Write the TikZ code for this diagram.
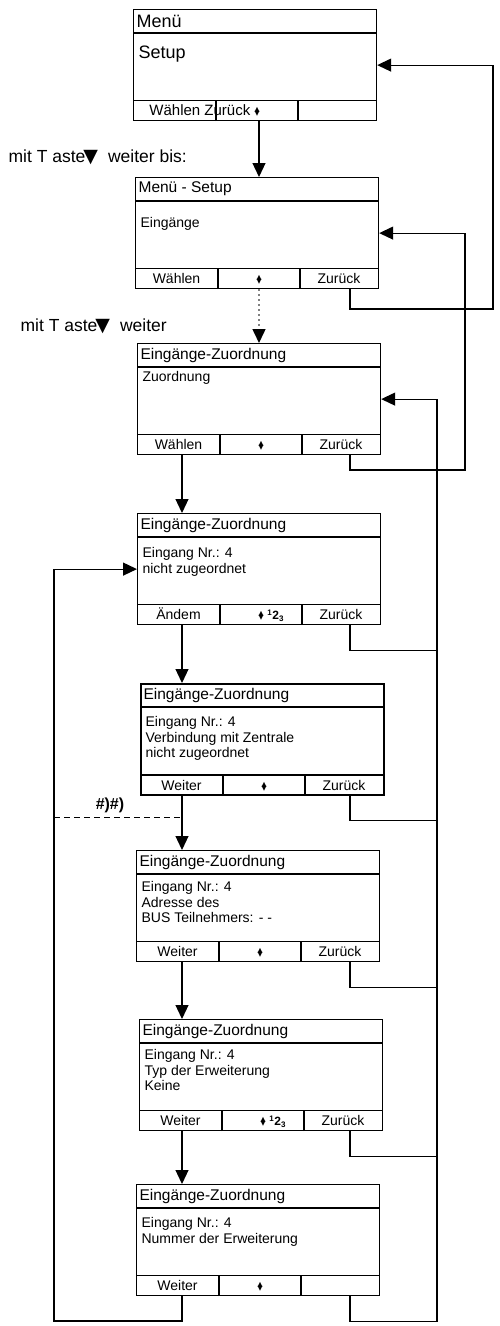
\documentclass[tikz,border=0pt]{standalone}
\usepackage{fontspec}
\setmainfont{Liberation Sans}
\newfontfamily\sym{DejaVu Sans}
\usetikzlibrary{arrows.meta,positioning}

% small up/down keys and the 123 key
\newcommand{\updn}{{\sym\fontsize{6.5}{6.5}\selectfont\ooalign{\raisebox{4.3pt}{▲}\cr▼}}}
\newcommand{\ott}{{\bfseries\fontsize{12}{12}\selectfont\textsuperscript{1}2\textsubscript{3}}}

% display screen: [opts]{name}{corner}{title}{body}{left}{middle}{right}{gap}
\newcommand{\screen}[9][]{%
  \node[lcd, #1, anchor=north west] (#2) at (#3) {};
  \draw[#1] ([yshift=-24pt]#2.north west) -- ([yshift=-24pt]#2.north east);
  \draw[#1] ([yshift=21pt]#2.south west) -- ([yshift=21pt]#2.south east);
  \draw[#1] ([xshift=83pt]#2.south west) -- ([xshift=83pt,yshift=21pt]#2.south west);
  \draw[#1] ([xshift=165pt]#2.south west) -- ([xshift=165pt,yshift=21pt]#2.south west);
  \node[lcdtitle] (#2-t) at ([xshift=3pt,yshift=-12pt]#2.north west) {#4};
  \node[lcdbody] (#2-b) at ([xshift=5pt,yshift=-24pt-#9pt]#2.north west) {#5};
  \node[lcdkey] (#2-l) at ([xshift=41.5pt,yshift=5.5pt]#2.south west) {#6};
  \node[lcdkey] (#2-m) at ([xshift=124pt,yshift=5.5pt]#2.south west) {#7};
  \node[lcdkey] (#2-r) at ([xshift=204pt,yshift=5.5pt]#2.south west) {#8};
}

\begin{document}
\begin{tikzpicture}[x=1pt, y=-1pt, line width=1.2pt,
  lcd/.style={draw, rectangle, minimum width=243pt, minimum height=111pt, inner sep=0pt},
  lcdtitle/.style={anchor=west, inner sep=0pt, font=\fontsize{15.5}{17}\selectfont},
  lcdbody/.style={anchor=north west, inner sep=0pt, align=left, font=\fontsize{14}{15.5}\selectfont},
  lcdkey/.style={anchor=base, inner sep=0pt, font=\fontsize{14}{16}\selectfont},
  flow/.style={-{Triangle[length=14pt,width=13pt,color=black]}},
  note/.style={anchor=west, inner sep=0pt, font=\fontsize{17.5}{20}\selectfont},
  hashlbl/.style={inner sep=0pt, font=\bfseries\fontsize{16}{18}\selectfont}]
\useasboundingbox (0,0) rectangle (500,1326);

\screen{s1}{133,9}{\fontsize{18}{20}\selectfont Menü}{\fontsize{18}{20}\selectfont Setup}
  {}{\fontsize{15}{16}\selectfont\llap{Wählen Zurück\ }\updn}{}{12}
\screen{s2}{135,177}{Menü - Setup}{Eingänge}{Wählen}{\updn}{Zurück}{16}
\screen{s3}{137,343}{Eingänge-Zuordnung}{Zuordnung}{Wählen}{\updn}{Zurück}{4}
\screen{s4}{137,513}{Eingänge-Zuordnung}{Eingang Nr.: 4\\nicht zugeordnet}
  {Ändem}{\updn\rlap{\ \ott}}{Zurück}{10}
\screen[line width=1.8pt]{s5}{140,683}{Eingänge-Zuordnung}{Eingang Nr.: 4\\Verbindung mit Zentrale\\nicht zugeordnet}
  {Weiter}{\updn}{Zurück}{9}
\screen{s6}{136,850}{Eingänge-Zuordnung}{Eingang Nr.: 4\\Adresse des\\BUS Teilnehmers: - -}
  {Weiter}{\updn}{Zurück}{7}
\screen{s7}{139,1019}{Eingänge-Zuordnung}{Eingang Nr.: 4\\Typ der Erweiterung\\Keine}
  {Weiter}{\updn\rlap{\ \ott}}{Zurück}{6}
\screen{s8}{136,1184}{Eingänge-Zuordnung}{Eingang Nr.: 4\\Nummer der Erweiterung}
  {Weiter}{\updn}{}{9}

\node[note] (hint1) at (8,157) {mit T aste\hspace{-2pt}{\sym\fontsize{19}{19}\selectfont ▼}\hspace{10pt}weiter bis:};
\node[note] (hint2) at (20,326) {mit T aste\hspace{-2pt}{\sym\fontsize{19}{19}\selectfont ▼}\hspace{10pt}weiter};
\node[hashlbl] (hash) at (110,805) {\#)\#)};

% connector positions
\coordinate (spineA) at (259,0);
\coordinate (spineB) at (182,0);
\coordinate (back) at (350,0);
\coordinate (ret1) at (493,309);
\coordinate (ret2) at (465,470);
\coordinate (ret3) at (437,1321);
\coordinate (loop) at (54,1321);
\coordinate (cut) at (54,817);

\draw[flow] (s1.south -| spineA) -- (s2.north -| spineA);
\draw[flow, line width=1.5pt, dash pattern=on 2pt off 3pt, draw=gray] (s2.south -| spineA) -- (s3.north -| spineA);
\foreach \a/\b in {s3/s4,s4/s5,s5/s6,s6/s7,s7/s8}
  \draw[flow] (\a.south -| spineB) -- (\b.north -| spineB);

\draw[flow] (s2.south -| back) |- (ret1) |- (s1.east);
\draw[flow] (s3.south -| back) |- (ret2) |- (s2.east);
\draw[flow] (ret3) |- (s3.east);
\foreach \s in {s4,s5,s6,s7,s8}
  \draw (\s.south -| back) -- ++(0,25) -| (ret3);

\draw[flow] (s8.south -| spineB) |- (loop) |- (s4.west);
\draw[line width=1pt, dash pattern=on 6pt off 4pt] (cut) -- (cut -| spineB);
\end{tikzpicture}
\end{document}
